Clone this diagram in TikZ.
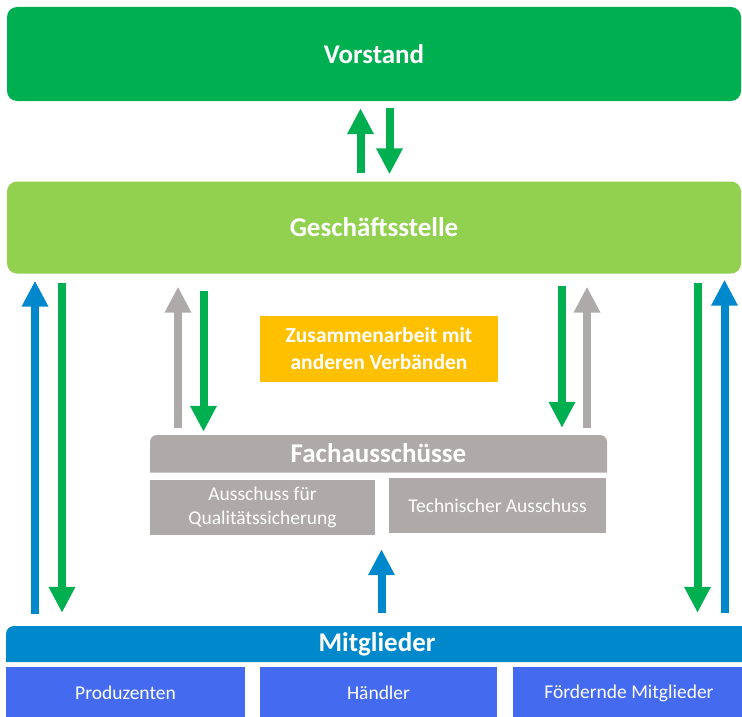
\documentclass[tikz,border=0pt]{standalone}
\usepackage{fontspec}
\setmainfont{Carlito}
\usetikzlibrary{arrows.meta}
\definecolor{vgreen}{RGB}{0,176,80}
\definecolor{lgreen}{RGB}{146,208,80}
\definecolor{orng}{RGB}{255,192,0}
\definecolor{gry}{RGB}{174,170,170}
\definecolor{mblue}{RGB}{0,136,204}
\definecolor{bblue}{RGB}{68,106,240}
\tikzset{
  box/.style={draw=none, inner sep=0pt, text=white, align=center, anchor=center},
  bigtxt/.style={font=\fontsize{27}{30}\selectfont\bfseries},
  midtxt/.style={font=\fontsize{21.5}{27}\selectfont\bfseries},
  smalltxt/.style={font=\fontsize{19.5}{24}\selectfont},
  arr/.style={line width=8pt, -{Triangle[width=25pt,length=26pt]}},
  garr/.style={arr, draw=vgreen, fill=vgreen},
  barr/.style={arr, draw=mblue, fill=mblue},
  grarr/.style={arr, draw=gry, fill=gry},
}
\begin{document}
\begin{tikzpicture}[x=1pt,y=-1pt]
\useasboundingbox (0,0) rectangle (742,717);
% boxes
\node[box, bigtxt, fill=vgreen, rounded corners=10pt, minimum width=734pt, minimum height=94pt] (vor) at (374,54) {Vorstand};
\node[box, bigtxt, fill=lgreen, rounded corners=10pt, minimum width=734pt, minimum height=92pt] (gs) at (374,227.5) {Geschäftsstelle};
\node[box, midtxt, fill=orng, minimum width=238pt, minimum height=66pt] (zus) at (379,349) {Zusammenarbeit mit\\anderen Verbänden};
\fill[gry] (150,472.5) [rounded corners=7pt] -- (150,435) -- (607,435) [sharp corners] -- (607,472.5) -- cycle;
\node[box, bigtxt, minimum width=457pt, minimum height=37pt] (fach) at (378.5,453.5) {Fachausschüsse};
\node[box, smalltxt, fill=gry, minimum width=225pt, minimum height=55pt] (qs) at (262.5,507.5) {Ausschuss für\\Qualitätssicherung};
\node[box, smalltxt, fill=gry, minimum width=217pt, minimum height=55pt] (tech) at (497.5,505.5) {Technischer Ausschuss};
\fill[mblue] (6,662) [rounded corners=8pt] -- (6,626) -- (752,626) [sharp corners] -- (752,662) -- cycle;
\node[box, bigtxt, minimum width=736pt, minimum height=36pt] (mit) at (377,644) {Mitglieder};
\node[box, smalltxt, fill=bblue, minimum width=239pt, minimum height=52pt] (prod) at (125.5,693) {Produzenten};
\node[box, smalltxt, fill=bblue, minimum width=237pt, minimum height=52pt] (haen) at (378.5,693) {Händler};
\node[box, smalltxt, fill=bblue, minimum width=232pt, minimum height=52pt] (foer) at (629,693) {Fördernde Mitglieder};
% x positions of arrows
\coordinate (xa) at (360.5,0);
\coordinate (xb) at (389.5,0);
\coordinate (x1) at (35,0);
\coordinate (x2) at (62,0);
\coordinate (x3) at (178,0);
\coordinate (x4) at (203.5,0);
\coordinate (x5) at (562,0);
\coordinate (x6) at (587,0);
\coordinate (x7) at (697.5,0);
\coordinate (x8) at (724.5,0);
\coordinate (x9) at (381.5,0);
% Vorstand <-> Geschaeftsstelle
\draw[garr] ([yshift=8pt]gs.north -| xa) -- ([yshift=-7pt]vor.south -| xa);
\draw[garr] ([yshift=-7pt]vor.south -| xb) -- ([yshift=7pt]gs.north -| xb);
% outer arrows
\draw[barr] ([yshift=12pt]mit.north -| x1) -- ([yshift=-7pt]gs.south -| x1);
\draw[garr] ([yshift=-9pt]gs.south -| x2) -- ([yshift=13pt]mit.north -| x2);
\draw[garr] ([yshift=-9pt]gs.south -| x7) -- ([yshift=13pt]mit.north -| x7);
\draw[barr] ([yshift=13pt]mit.north -| x8) -- ([yshift=-6pt]gs.south -| x8);
% inner arrows
\draw[grarr] ([yshift=7pt]fach.north -| x3) -- ([yshift=-13pt]gs.south -| x3);
\draw[garr] ([yshift=-17pt]gs.south -| x4) -- ([yshift=3pt]fach.north -| x4);
\draw[garr] ([yshift=-12pt]gs.south -| x5) -- ([yshift=7pt]fach.north -| x5);
\draw[grarr] ([yshift=7pt]fach.north -| x6) -- ([yshift=-13pt]gs.south -| x6);
% Mitglieder -> Fachausschuesse
\draw[barr] ([yshift=13pt]mit.north -| x9) -- ([yshift=-14pt]qs.south -| x9);
\end{tikzpicture}
\end{document}
